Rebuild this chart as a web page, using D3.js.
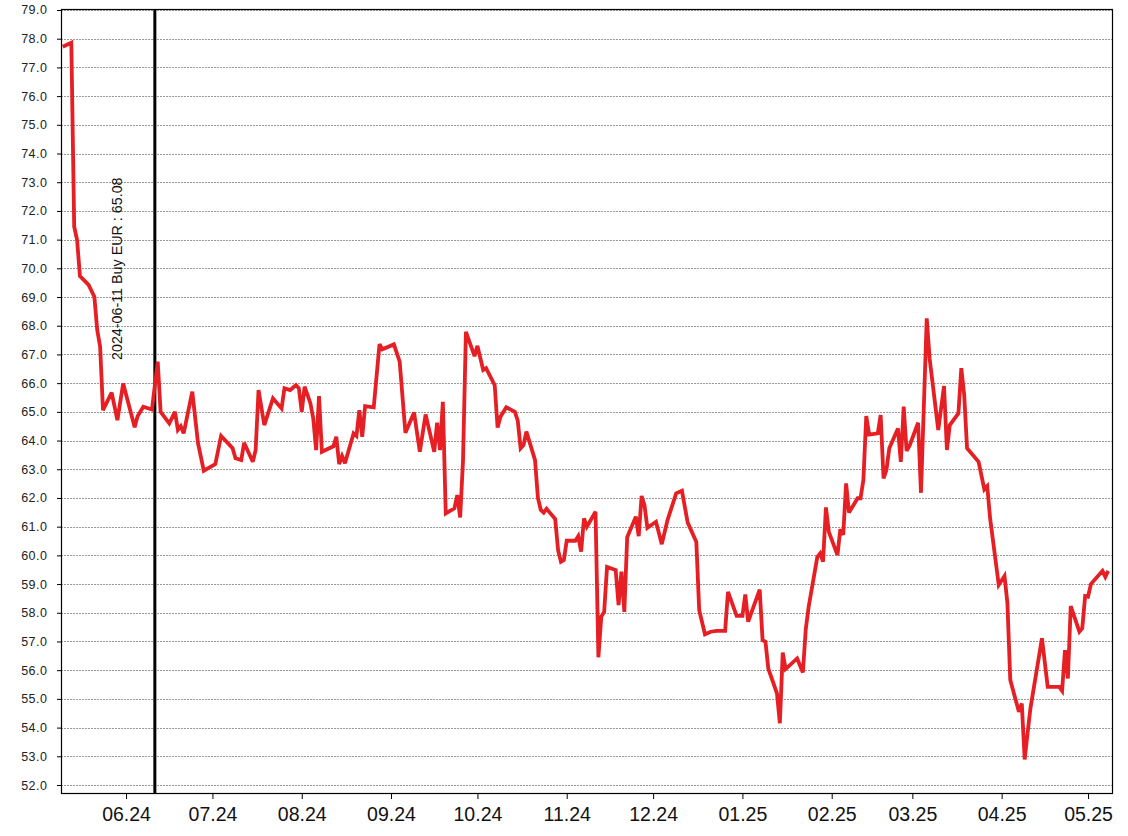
<!DOCTYPE html>
<html><head><meta charset="utf-8">
<script src="https://cdn.jsdelivr.net/npm/d3@7"></script>
<style>body{margin:0;background:#fff;}svg{display:block;font-family:"Liberation Sans",Arial,sans-serif;}</style>
</head><body><svg id="c" width="1128" height="836"></svg>
<script>
const dates = ["2024-05-10","2024-05-13","2024-05-14","2024-05-15","2024-05-16","2024-05-19","2024-05-21","2024-05-22","2024-05-23","2024-05-24","2024-05-27","2024-05-29","2024-05-31","2024-06-04","2024-06-05","2024-06-07","2024-06-10","2024-06-12","2024-06-13","2024-06-16","2024-06-18","2024-06-19","2024-06-20","2024-06-21","2024-06-24","2024-06-26","2024-06-28","2024-07-02","2024-07-04","2024-07-08","2024-07-09","2024-07-11","2024-07-12","2024-07-15","2024-07-16","2024-07-17","2024-07-19","2024-07-22","2024-07-23","2024-07-25","2024-07-26","2024-07-28","2024-07-30","2024-07-31","2024-08-01","2024-08-02","2024-08-04","2024-08-05","2024-08-06","2024-08-07","2024-08-08","2024-08-12","2024-08-13","2024-08-14","2024-08-15","2024-08-16","2024-08-19","2024-08-20","2024-08-21","2024-08-22","2024-08-23","2024-08-26","2024-08-28","2024-08-29","2024-09-02","2024-09-04","2024-09-06","2024-09-09","2024-09-11","2024-09-13","2024-09-16","2024-09-17","2024-09-18","2024-09-19","2024-09-20","2024-09-23","2024-09-24","2024-09-25","2024-09-26","2024-09-27","2024-09-30","2024-10-01","2024-10-03","2024-10-04","2024-10-07","2024-10-08","2024-10-09","2024-10-11","2024-10-14","2024-10-15","2024-10-16","2024-10-17","2024-10-18","2024-10-21","2024-10-22","2024-10-23","2024-10-24","2024-10-25","2024-10-28","2024-10-29","2024-10-30","2024-10-31","2024-11-01","2024-11-04","2024-11-05","2024-11-06","2024-11-07","2024-11-08","2024-11-11","2024-11-12","2024-11-13","2024-11-14","2024-11-15","2024-11-18","2024-11-19","2024-11-20","2024-11-21","2024-11-22","2024-11-25","2024-11-26","2024-11-27","2024-11-28","2024-11-29","2024-12-02","2024-12-04","2024-12-06","2024-12-09","2024-12-11","2024-12-13","2024-12-16","2024-12-17","2024-12-19","2024-12-21","2024-12-23","2024-12-26","2024-12-27","2024-12-30","2025-01-01","2025-01-02","2025-01-03","2025-01-07","2025-01-08","2025-01-09","2025-01-10","2025-01-13","2025-01-14","2025-01-15","2025-01-16","2025-01-20","2025-01-22","2025-01-23","2025-01-24","2025-01-27","2025-01-28","2025-01-29","2025-01-30","2025-01-31","2025-02-03","2025-02-04","2025-02-05","2025-02-06","2025-02-07","2025-02-10","2025-02-11","2025-02-12","2025-02-13","2025-02-14","2025-02-17","2025-02-18","2025-02-19","2025-02-20","2025-02-21","2025-02-24","2025-02-25","2025-02-26","2025-02-27","2025-02-28","2025-03-03","2025-03-04","2025-03-06","2025-03-07","2025-03-10","2025-03-12","2025-03-13","2025-03-14","2025-03-17","2025-03-18","2025-03-19","2025-03-20","2025-03-24","2025-03-26","2025-03-27","2025-03-28","2025-03-31","2025-04-02","2025-04-03","2025-04-04","2025-04-07","2025-04-08","2025-04-09","2025-04-10","2025-04-11","2025-04-15","2025-04-17","2025-04-21","2025-04-22","2025-04-23","2025-04-24","2025-04-25","2025-04-28","2025-04-29","2025-04-30","2025-05-01","2025-05-02","2025-05-06","2025-05-07","2025-05-08"];
const prices = [77.72,77.86,71.45,70.99,69.73,69.42,69.01,67.85,67.27,65.06,65.67,64.71,65.99,64.46,64.85,65.18,65.08,66.75,65.00,64.60,65.00,64.37,64.50,64.25,65.70,63.90,62.95,63.18,64.16,63.73,63.38,63.32,63.92,63.26,63.67,65.76,64.54,65.47,65.35,65.12,65.82,65.76,65.93,65.82,65.00,65.88,65.30,64.77,63.67,65.55,63.61,63.80,64.13,63.18,63.46,63.21,64.25,64.16,65.06,64.13,65.20,65.16,67.36,67.18,67.35,66.75,64.27,64.98,63.61,64.91,63.61,64.62,63.67,65.35,61.46,61.64,62.10,61.32,63.32,67.79,66.94,67.30,66.46,66.52,65.93,64.45,64.83,65.16,65.00,64.69,63.73,63.84,64.31,63.32,62.00,61.58,61.49,61.62,61.27,60.18,59.78,59.84,60.51,60.51,60.67,60.13,61.29,61.00,61.52,56.45,57.87,58.03,59.60,59.49,58.27,59.43,58.03,60.63,61.35,60.67,62.07,61.75,60.96,61.17,60.39,61.23,62.16,62.25,61.14,60.47,58.09,57.25,57.34,57.37,57.37,58.73,57.89,57.89,58.64,57.69,58.81,57.05,56.99,56.05,55.19,54.15,56.61,56.04,56.41,55.92,57.43,58.21,59.94,60.07,59.78,61.67,60.82,60.01,60.91,60.71,62.51,61.49,61.99,61.99,62.62,64.85,64.21,64.25,64.89,62.68,62.97,63.73,64.42,63.26,65.18,63.64,63.81,64.62,62.18,68.26,66.86,64.37,65.90,63.67,64.54,64.95,66.52,65.59,63.73,63.26,62.30,62.41,61.29,58.97,59.28,58.35,55.66,54.55,54.84,52.89,53.80,54.67,57.11,55.42,55.42,55.28,56.70,55.71,58.23,57.34,57.46,58.58,58.56,59.00,59.46,59.25,59.46];
const monthTicks = ["2024-06-01","2024-07-01","2024-08-01","2024-09-01","2024-10-01","2024-11-01","2024-12-01","2025-01-01","2025-02-01","2025-03-01","2025-04-01","2025-05-01"];
const yTicks = d3.range(52, 80, 1);
const buyDate = "2024-06-11";
const buyLabel = "2024-06-11 Buy EUR : 65.08";
const xStart = "2024-05-09T10:00", xEnd = "2025-05-09T16:00";

const parse = d3.isoParse;
const W = 1128, H = 836;
const m = {left: 61, top: 9, right: 15, bottom: 42};
const svg = d3.select("#c");
const x = d3.scaleTime().domain([parse(xStart), parse(xEnd)]).range([m.left, W - m.right]);
const y = d3.scaleLinear().domain([51.6865, 79.0348]).range([H - m.bottom, m.top]);

// gridlines
svg.append("g").selectAll("line").data(yTicks).join("line")
  .attr("x1", m.left).attr("x2", W - m.right)
  .attr("y1", d => Math.round(y(d)) + 0.5).attr("y2", d => Math.round(y(d)) + 0.5)
  .attr("stroke", "#9a9a9a").attr("stroke-width", 1).attr("stroke-dasharray", "2,1");

// Y axis
const yAxis = svg.append("g").attr("transform", `translate(${m.left},0)`)
  .call(d3.axisLeft(y).tickValues(yTicks).tickFormat(d3.format(".1f")).tickSize(4).tickPadding(9.5));
yAxis.select(".domain").remove();
yAxis.selectAll("text").attr("font-size", 12.5).attr("letter-spacing", "0.5px").attr("fill", "#222").attr("font-family", "Liberation Sans, Arial, sans-serif");

// X axis
const xAxis = svg.append("g").attr("transform", `translate(0,${H - m.bottom})`)
  .call(d3.axisBottom(x).tickValues(monthTicks.map(parse)).tickFormat(d3.timeFormat("%m.%y")).tickSize(5).tickPadding(8.5));
xAxis.select(".domain").remove();
xAxis.selectAll("text").attr("font-size", 19.5).attr("fill", "#111").attr("font-family", "Liberation Sans, Arial, sans-serif");

// frame
svg.append("rect").attr("x", m.left + 0.5).attr("y", m.top + 0.5)
  .attr("width", W - m.right - m.left - 1).attr("height", H - m.bottom - m.top - 1)
  .attr("fill", "none").attr("stroke", "#000").attr("stroke-width", 1.2);

// buy line
const bx = x(parse(buyDate));
svg.append("line").attr("x1", bx).attr("x2", bx).attr("y1", m.top).attr("y2", H - m.bottom)
  .attr("stroke", "#000").attr("stroke-width", 3);
svg.append("text").attr("transform", `translate(${bx - 32.5},360) rotate(-90)`)
  .attr("font-size", 14.3).attr("fill", "#111").text(buyLabel);

// price line
const data = dates.map((d, i) => ({d: parse(d), v: prices[i]}));
svg.append("path").datum(data)
  .attr("fill", "none").attr("stroke", "#e51f24").attr("stroke-width", 3.8)
  .attr("stroke-linejoin", "miter").attr("stroke-miterlimit", 3)
  .attr("d", d3.line().x(d => x(d.d)).y(d => y(d.v)));
</script></body></html>
